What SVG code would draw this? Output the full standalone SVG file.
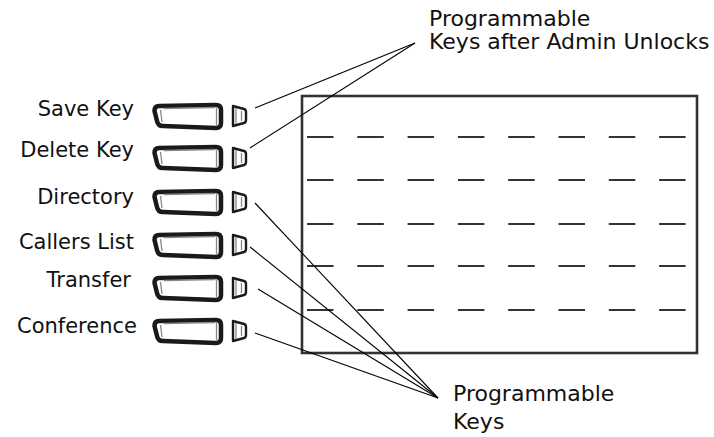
<svg xmlns="http://www.w3.org/2000/svg" xmlns:xlink="http://www.w3.org/1999/xlink" width="714" height="437" viewBox="0 0 714 437">
<style>
.lbl{font-family:"DejaVu Sans","Liberation Sans",sans-serif;font-size:21px;fill:#111}
.big{font-size:22px}
.btn{fill:#fff;stroke:#1a1a1a;stroke-width:4.5;stroke-linejoin:round}
.hl{fill:none;stroke:#888;stroke-width:1.3}
.sk{fill:#fff;stroke:#1a1a1a;stroke-width:2.4;stroke-linejoin:round}
.ln{stroke:#000;stroke-width:1.1;fill:none}
.dash{stroke:#333;stroke-width:2.2;stroke-dasharray:26.5 23.8}
</style>
<defs>
<g id="bigkey">
<path class="btn" d="M6,-10 L63,-11 Q68,-11 68,-6 L68,7 Q68,12 63,12 L10,10 Q5,10 4,5 L1.5,-5 Q1.5,-10 6,-10 Z"/>
<path class="hl" d="M7.5,-6 L9,6 M63.5,-8 L63.5,9 M11,-7.5 L62,-8.5"/>
</g>
<g id="smallkey">
<path class="sk" d="M1,-10 L12,-7 Q14,-6.5 14,-4 L14,4 Q14,6.5 12,7 L1,10 Z"/>
<path class="hl" d="M4,-8 L4,8 M9.5,-5 L9.5,5"/>
</g>
</defs>
<g id="display">
<rect x="302" y="96" width="395" height="257" fill="none" stroke="#333" stroke-width="2.6"/>
<line class="dash" x1="307" y1="137" x2="690" y2="137"/>
<line class="dash" x1="307" y1="180" x2="690" y2="180"/>
<line class="dash" x1="307" y1="224" x2="690" y2="224"/>
<line class="dash" x1="307" y1="266" x2="690" y2="266"/>
<line class="dash" x1="307" y1="310" x2="690" y2="310"/>
</g>
<g id="save-key">
<text class="lbl" x="134" y="116" text-anchor="end">Save Key</text>
<use xlink:href="#bigkey" x="153" y="116"/>
<use xlink:href="#smallkey" x="232" y="116"/>
</g>
<g id="delete-key">
<text class="lbl" x="134" y="157" text-anchor="end">Delete Key</text>
<use xlink:href="#bigkey" x="153" y="158"/>
<use xlink:href="#smallkey" x="232" y="158"/>
</g>
<g id="directory">
<text class="lbl" x="134" y="204" text-anchor="end">Directory</text>
<use xlink:href="#bigkey" x="153" y="202"/>
<use xlink:href="#smallkey" x="232" y="202"/>
</g>
<g id="callers-list">
<text class="lbl" x="134" y="249" text-anchor="end">Callers List</text>
<use xlink:href="#bigkey" x="153" y="245"/>
<use xlink:href="#smallkey" x="232" y="245"/>
</g>
<g id="transfer">
<text class="lbl" x="131" y="287" text-anchor="end">Transfer</text>
<use xlink:href="#bigkey" x="153" y="288"/>
<use xlink:href="#smallkey" x="232" y="288"/>
</g>
<g id="conference">
<text class="lbl" x="137" y="333" text-anchor="end">Conference</text>
<use xlink:href="#bigkey" x="153" y="331"/>
<use xlink:href="#smallkey" x="232" y="331"/>
</g>
<g id="label-admin">
<text class="lbl big" x="429" y="26">Programmable</text>
<text class="lbl big" x="429" y="49">Keys after Admin Unlocks</text>
</g>
<g id="label-prog">
<text class="lbl big" x="453" y="401">Programmable</text>
<text class="lbl big" x="453" y="429">Keys</text>
</g>
<g id="connectors">
<line class="ln" x1="255" y1="108" x2="415" y2="43"/>
<line class="ln" x1="250" y1="148" x2="415" y2="43"/>
<line class="ln" x1="255" y1="203" x2="438" y2="398"/>
<line class="ln" x1="250" y1="247" x2="438" y2="398"/>
<line class="ln" x1="258" y1="289" x2="438" y2="398"/>
<line class="ln" x1="255" y1="333" x2="438" y2="398"/>
</g>
</svg>
